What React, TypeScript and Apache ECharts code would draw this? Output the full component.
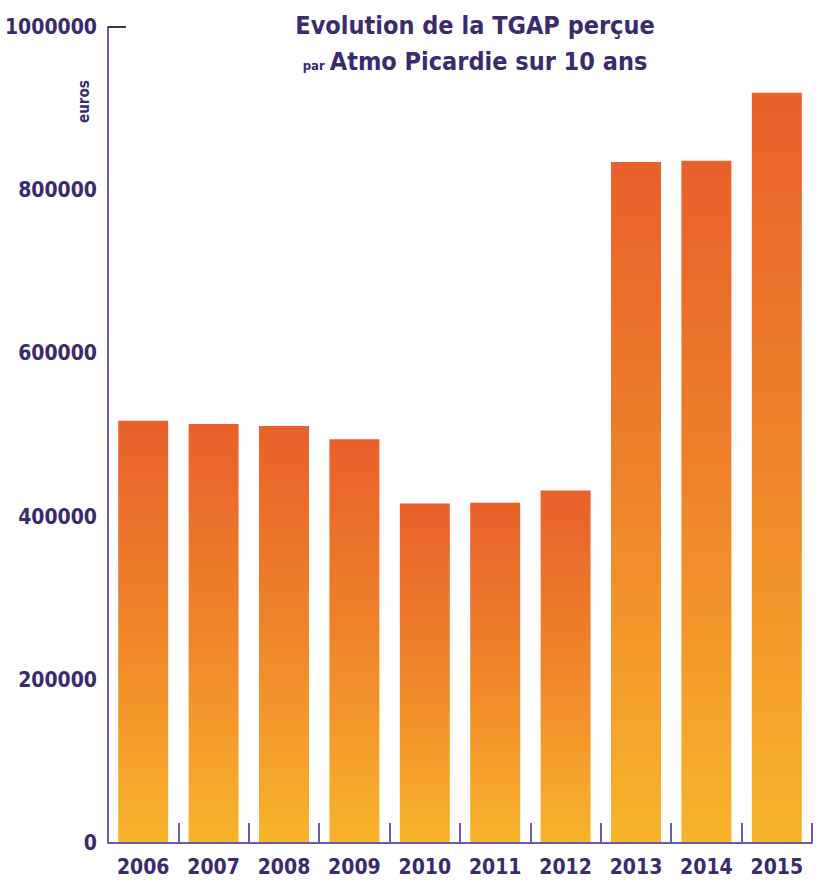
import React, { useEffect, useRef } from "react";
import * as echarts from "echarts";

const years = ["2006", "2007", "2008", "2009", "2010", "2011", "2012", "2013", "2014", "2015"];
const tgap = [517500, 513500, 511000, 494700, 416000, 417000, 432000, 834600, 836000, 919500];
const yTicks = [0, 200000, 400000, 600000, 800000, 1000000];
const titleLine1 = "Evolution de la TGAP perçue";
const titleSmall = "par";
const titleLine2 = "Atmo Picardie sur 10 ans";
const unitLabel = "euros";

const FONT = "'DejaVu Sans Condensed', 'Liberation Sans Narrow', sans-serif";
const PURPLE_TEXT = "#3b2b6e";
const PURPLE_AXIS = "#6a5ba8";

export default function App() {
  const ref = useRef<HTMLDivElement>(null);
  useEffect(() => {
    if (!ref.current) return;
    const chart = echarts.init(ref.current, null, { renderer: "svg" });
    chart.setOption({
      animation: false,
      backgroundColor: "#ffffff",
      title: {
        text: `{a|${titleLine1}}\n{s|${titleSmall}} {a|${titleLine2}}`,
        left: 470,
        top: 2,
        textAlign: "center",
        textStyle: {
          rich: {
            a: { fontFamily: FONT, fontWeight: "bold", fontSize: 25, color: PURPLE_TEXT, lineHeight: 36 },
            s: { fontFamily: FONT, fontWeight: "bold", fontSize: 13, color: PURPLE_TEXT, lineHeight: 36, verticalAlign: "bottom", padding: [0, 0, 7, 0] },
          },
        },
      },
      graphic: [
        {
          type: "text",
          x: 76,
          y: 123,
          rotation: Math.PI / 2,
          style: { text: unitLabel, fontFamily: FONT, fontWeight: "bold", fontSize: 15, fill: PURPLE_TEXT, textAlign: "left", textVerticalAlign: "top" },
        },
      ],
      grid: { left: 108, right: 4, top: 27, bottom: 37, containLabel: false, outerBoundsMode: "none" },
      xAxis: {
        type: "category",
        data: years,
        axisLine: { show: true, lineStyle: { color: PURPLE_AXIS, width: 2 } },
        axisTick: { show: true, inside: true, length: 20, lineStyle: { color: PURPLE_AXIS, width: 2 } },
        axisLabel: { interval: 0, fontFamily: FONT, fontWeight: "bold", fontSize: 21, color: PURPLE_TEXT, margin: 13 },
        splitLine: { show: false },
        z: 3,
      },
      yAxis: {
        type: "value",
        min: yTicks[0],
        max: yTicks[yTicks.length - 1],
        interval: yTicks[1] - yTicks[0],
        axisLine: { show: true, lineStyle: { color: PURPLE_AXIS, width: 2 } },
        axisTick: { show: true, inside: true, length: 18, customValues: [yTicks[yTicks.length - 1]], lineStyle: { color: "#3a3a3a", width: 2 } },
        axisLabel: { fontFamily: FONT, fontWeight: "bold", fontSize: 21, color: PURPLE_TEXT, margin: 11, formatter: (v: number) => String(v) },
        splitLine: { show: false },
      },
      series: [
        {
          type: "bar",
          data: tgap,
          barCategoryGap: "29%",
          z: 2,
          itemStyle: {
            color: new echarts.graphic.LinearGradient(0, 0, 0, 1, [
              { offset: 0, color: "#e8602b" },
              { offset: 0.5, color: "#ef852a" },
              { offset: 1, color: "#f8b42c" },
            ]),
          },
        },
      ],
    });
    return () => chart.dispose();
  }, []);
  return <div ref={ref} style={{ position: "absolute", left: 0, top: 0, width: 816, height: 880 }} />;
}
